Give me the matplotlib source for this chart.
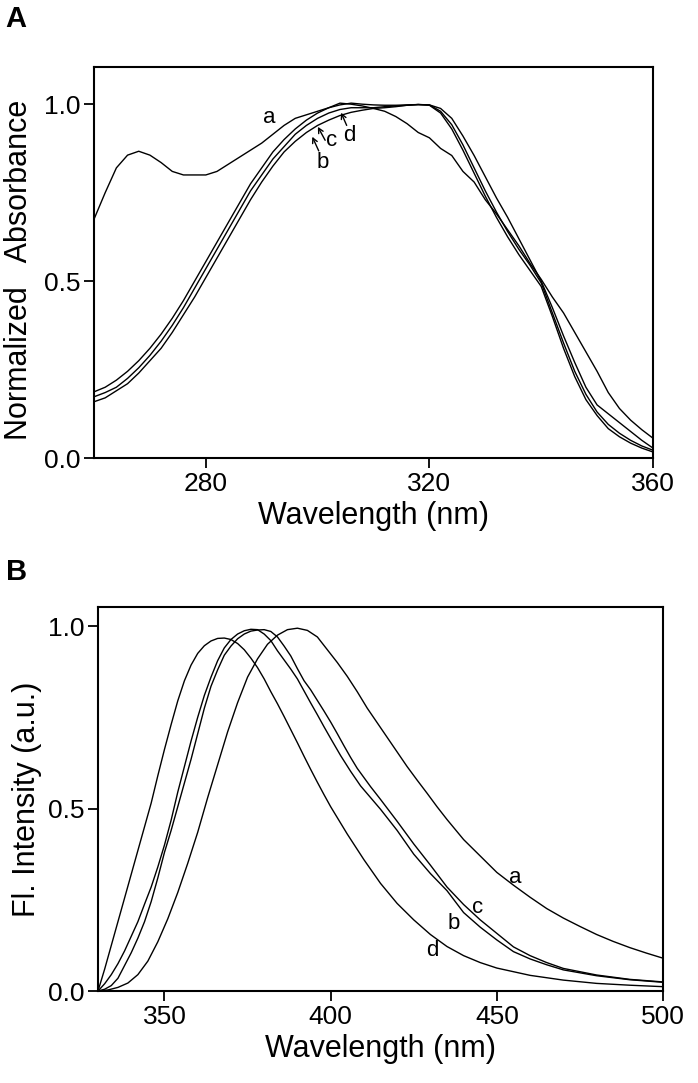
import numpy as np
import matplotlib.pyplot as plt

plt.rcParams['font.family'] = ['Liberation Sans', 'DejaVu Sans']

# ---- panel A: normalized absorbance ----
abs_wl_a = [260, 262, 264, 266, 268, 270, 272, 274, 276, 278, 280, 282, 284, 286, 288, 290,
            292, 294, 296, 298, 300, 302, 304, 306, 308, 310, 312, 314, 316, 318, 320, 322,
            324, 326, 328, 330, 332, 334, 336, 338, 340, 342, 344, 346, 348, 350, 352, 354,
            356, 358, 360]
abs_a = [0.675, 0.75, 0.82, 0.856, 0.867, 0.856, 0.835, 0.81, 0.80, 0.80, 0.80, 0.81, 0.83,
         0.85, 0.87, 0.89, 0.915, 0.94, 0.96, 0.97, 0.98, 0.99, 1.003, 1.0, 0.995, 0.988,
         0.98, 0.965, 0.945, 0.92, 0.905, 0.875, 0.855, 0.81, 0.78, 0.73, 0.69, 0.645, 0.60,
         0.55, 0.505, 0.455, 0.41, 0.355, 0.30, 0.245, 0.185, 0.14, 0.107, 0.08, 0.056]

abs_wl = [260, 262, 264, 266, 268, 270, 272, 274, 276, 278, 280, 282, 284, 286, 288, 290,
          292, 294, 296, 298, 300, 302, 304, 306, 308, 310, 312, 314, 316, 318, 320, 322,
          324, 326, 328, 330, 332, 334, 336, 338, 340, 342, 344, 346, 348, 350, 352, 354,
          356, 358, 360]
abs_b = [0.159, 0.17, 0.19, 0.21, 0.24, 0.275, 0.31, 0.355, 0.405, 0.455, 0.51, 0.565, 0.62,
         0.675, 0.73, 0.78, 0.825, 0.865, 0.895, 0.92, 0.94, 0.955, 0.968, 0.977, 0.983,
         0.988, 0.99, 0.993, 0.997, 0.999, 0.998, 0.988, 0.96, 0.91, 0.855, 0.795, 0.735,
         0.68, 0.62, 0.56, 0.50, 0.425, 0.345, 0.27, 0.20, 0.15, 0.125, 0.10, 0.075, 0.05,
         0.028]
abs_c = [0.187, 0.20, 0.22, 0.245, 0.275, 0.31, 0.35, 0.395, 0.445, 0.50, 0.555, 0.61, 0.665,
         0.72, 0.775, 0.82, 0.865, 0.90, 0.93, 0.955, 0.975, 0.99, 0.998, 1.003, 1.0, 0.998,
         0.997, 0.997, 0.998, 0.999, 0.997, 0.975, 0.93, 0.87, 0.805, 0.74, 0.68, 0.625,
         0.575, 0.53, 0.485, 0.40, 0.31, 0.23, 0.165, 0.12, 0.083, 0.06, 0.042, 0.028, 0.017]
abs_d = [0.173, 0.185, 0.20, 0.225, 0.255, 0.29, 0.33, 0.375, 0.425, 0.48, 0.535, 0.59, 0.645,
         0.70, 0.755, 0.80, 0.845, 0.88, 0.915, 0.94, 0.96, 0.975, 0.985, 0.99, 0.99, 0.99,
         0.993, 0.995, 0.997, 0.999, 0.998, 0.98, 0.942, 0.885, 0.82, 0.755, 0.695, 0.64,
         0.59, 0.545, 0.495, 0.41, 0.325, 0.245, 0.18, 0.13, 0.095, 0.07, 0.05, 0.034, 0.022]

# ---- panel B: fluorescence ----
fl_wl_a = [330, 333, 336, 339, 342, 345, 348, 351, 354, 357, 360, 363, 366, 369, 372, 375,
           378, 381, 384, 387, 390, 393, 396, 399, 402, 405, 408, 411, 414, 417, 420, 423,
           426, 429, 432, 435, 440, 445, 450, 455, 460, 465, 470, 475, 480, 485, 490, 495, 500]
fl_a = [0.0, 0.003, 0.01, 0.022, 0.045, 0.082, 0.135, 0.198, 0.27, 0.35, 0.435, 0.53, 0.62,
        0.71, 0.79, 0.86, 0.91, 0.95, 0.975, 0.99, 0.994, 0.988, 0.97, 0.935, 0.90, 0.862,
        0.82, 0.775, 0.735, 0.695, 0.655, 0.615, 0.578, 0.542, 0.505, 0.47, 0.415, 0.37,
        0.325, 0.29, 0.257, 0.226, 0.20, 0.177, 0.155, 0.136, 0.119, 0.104, 0.09]

fl_wl_b = [330, 332, 334, 336, 338, 340, 342, 344, 346, 348, 350, 352, 354, 356, 358, 360,
           362, 364, 366, 368, 370, 372, 374, 376, 378, 380, 382, 384, 386, 388, 390, 392,
           394, 396, 398, 400, 403, 406, 409, 412, 415, 420, 425, 430, 435, 440, 445, 450,
           455, 460, 465, 470, 480, 490, 500]
fl_b = [0.0, 0.02, 0.045, 0.075, 0.11, 0.15, 0.19, 0.238, 0.285, 0.34, 0.40, 0.468, 0.545,
        0.615, 0.685, 0.75, 0.81, 0.86, 0.905, 0.94, 0.963, 0.978, 0.987, 0.991, 0.99, 0.978,
        0.96, 0.932, 0.907, 0.882, 0.855, 0.822, 0.789, 0.757, 0.724, 0.692, 0.645, 0.602,
        0.562, 0.53, 0.498, 0.44, 0.375, 0.322, 0.275, 0.215, 0.175, 0.14, 0.108, 0.088,
        0.072, 0.058, 0.042, 0.031, 0.024]

fl_wl_c = [330, 332, 334, 336, 338, 340, 342, 344, 346, 348, 350, 352, 354, 356, 358, 360,
           362, 364, 366, 368, 370, 372, 374, 376, 378, 380, 382, 384, 386, 388, 390, 392,
           394, 396, 398, 400, 402, 404, 406, 408, 410, 412, 415, 420, 425, 430, 435, 440,
           445, 450, 455, 460, 465, 470, 480, 490, 500]
fl_c = [0.0, 0.005, 0.015, 0.035, 0.07, 0.105, 0.145, 0.19, 0.245, 0.31, 0.38, 0.44, 0.505,
        0.57, 0.635, 0.705, 0.775, 0.835, 0.88, 0.92, 0.945, 0.965, 0.978, 0.986, 0.989,
        0.99, 0.985, 0.97, 0.945, 0.918, 0.883, 0.85, 0.825, 0.796, 0.767, 0.737, 0.705,
        0.672, 0.64, 0.61, 0.585, 0.56, 0.525, 0.465, 0.403, 0.345, 0.285, 0.237, 0.195,
        0.158, 0.121, 0.097, 0.078, 0.062, 0.044, 0.032, 0.025]

fl_wl_d = [330, 332, 334, 336, 338, 340, 342, 344, 346, 348, 350, 352, 354, 356, 358, 360,
           362, 364, 366, 368, 370, 372, 374, 376, 378, 380, 382, 384, 386, 388, 390, 392,
           394, 396, 398, 400, 405, 410, 415, 420, 425, 430, 435, 440, 445, 450, 460, 470,
           480, 490, 500]
fl_d = [0.0, 0.06, 0.125, 0.19, 0.255, 0.32, 0.385, 0.45, 0.515, 0.59, 0.662, 0.73, 0.795,
        0.85, 0.893, 0.925, 0.946, 0.959, 0.966, 0.967, 0.963, 0.952, 0.935, 0.912, 0.886,
        0.855, 0.82, 0.787, 0.752, 0.716, 0.68, 0.643, 0.607, 0.572, 0.538, 0.505, 0.43,
        0.36, 0.295, 0.24, 0.195, 0.155, 0.122, 0.097, 0.078, 0.063, 0.043, 0.03, 0.021,
        0.016, 0.012]

fig = plt.figure(figsize=(6.98, 10.83), dpi=100)
ax1 = fig.add_axes([0.1347, 0.5771, 0.8008, 0.3610])
ax2 = fig.add_axes([0.1404, 0.0849, 0.8095, 0.3546])

lw = 1.0
for wl, ys in [(abs_wl_a, abs_a), (abs_wl, abs_b), (abs_wl, abs_c), (abs_wl, abs_d)]:
    ax1.plot(wl, ys, color='black', lw=lw)

ax1.text(291.4, 0.963, 'a', fontsize=16, ha='center', va='center')
ax1.text(300.9, 0.836, 'b', fontsize=16, ha='center', va='center')
ax1.text(302.5, 0.898, 'c', fontsize=16, ha='center', va='center')
ax1.text(305.7, 0.912, 'd', fontsize=16, ha='center', va='center')
arrow = dict(arrowstyle='->,head_length=0.35,head_width=0.18', color='black', lw=1.0,
             shrinkA=0, shrinkB=0)
ax1.annotate('', xy=(299.05, 0.908), xytext=(300.2, 0.868), arrowprops=arrow)
ax1.annotate('', xy=(300.05, 0.936), xytext=(301.35, 0.898), arrowprops=arrow)
ax1.annotate('', xy=(304.2, 0.976), xytext=(305.2, 0.94), arrowprops=arrow)

ax1.set_xlim(260, 360)
ax1.set_ylim(0, 1.105)
ax1.set_xticks([280, 320, 360])
ax1.set_yticks([0.0, 0.5, 1.0])
ax1.set_yticklabels(['0.0', '0.5', '1.0'])
ax1.set_xlabel('Wavelength (nm)', fontsize=22)
ax1.set_ylabel('Normalized   Absorbance', fontsize=22)
ax1.yaxis.set_label_coords(-0.107, 0.48)

for wl, ys in [(fl_wl_a, fl_a), (fl_wl_b, fl_b), (fl_wl_c, fl_c), (fl_wl_d, fl_d)]:
    ax2.plot(wl, ys, color='black', lw=lw)

ax2.text(455.5, 0.311, 'a', fontsize=16, ha='center', va='center')
ax2.text(444.3, 0.229, 'c', fontsize=16, ha='center', va='center')
ax2.text(437.1, 0.185, 'b', fontsize=16, ha='center', va='center')
ax2.text(430.5, 0.110, 'd', fontsize=16, ha='center', va='center')

ax2.set_xlim(330, 500)
ax2.set_ylim(0, 1.052)
ax2.set_xticks([350, 400, 450, 500])
ax2.set_yticks([0.0, 0.5, 1.0])
ax2.set_yticklabels(['0.0', '0.5', '1.0'])
ax2.set_xlabel('Wavelength (nm)', fontsize=22)
ax2.set_ylabel('Fl. Intensity (a.u.)', fontsize=22)

for ax in (ax1, ax2):
    for s in ax.spines.values():
        s.set_linewidth(1.5)
    ax.tick_params(direction='out', length=7, width=1.3, labelsize=19, pad=3,
                   top=False, right=False)

fig.text(0.008, 0.982, 'A', fontsize=21, fontweight='bold', va='center')
fig.text(0.008, 0.472, 'B', fontsize=21, fontweight='bold', va='center')

fig.savefig('out.png', dpi=100)
